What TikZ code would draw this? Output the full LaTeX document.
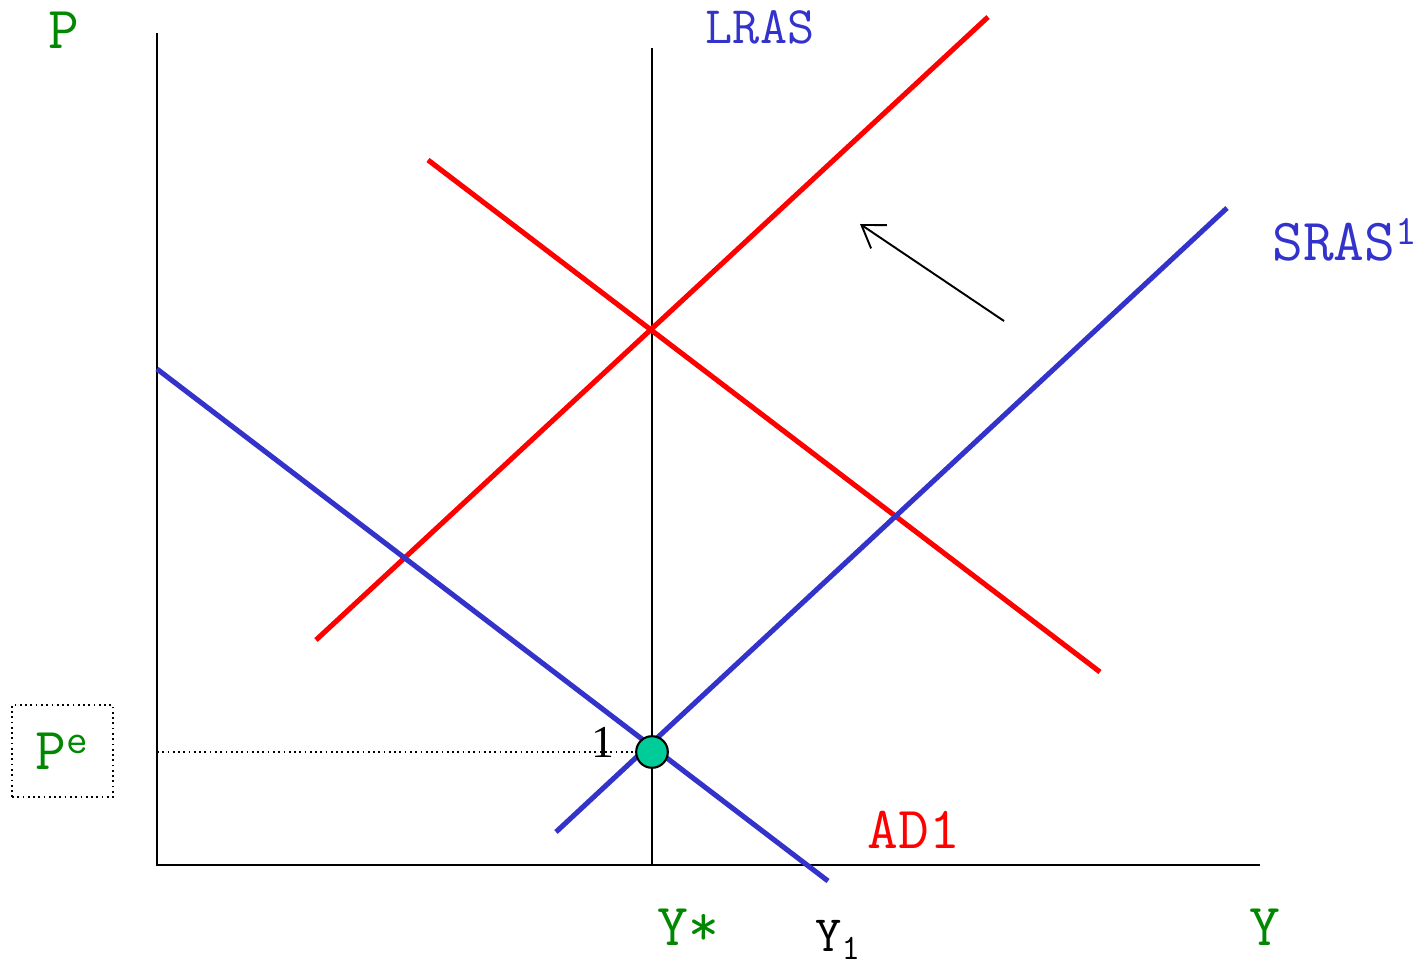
\documentclass[tikz,border=0pt]{standalone}
\usepackage{fontspec}
\setmainfont{Liberation Serif}
\usepackage{tikz}
\usetikzlibrary{positioning,arrows.meta,calc}
\usepackage{xcolor}
\definecolor{mygreen}{RGB}{0,136,0}
\definecolor{myblue}{RGB}{51,51,204}
\definecolor{myred}{RGB}{255,0,0}
\definecolor{myteal}{RGB}{0,204,153}

\begin{document}
\begin{tikzpicture}[x=0.02cm, y=-0.02cm,
    every node/.style={font=\ttfamily\fontsize{34}{36}\selectfont, inner sep=0pt},
    curve/.style={line width=2.9pt},
    axis/.style={line width=1.7pt}]
      \useasboundingbox (0,0) rectangle (1428,966);
      % axes
      \coordinate (O)  at (157,865);
      \coordinate (Pt) at (157,33);
      \coordinate (Yr) at (1260,865);
      \draw[axis] (Pt) -- (O) -- (Yr);
      % long run
      \coordinate (Lt) at (652,48);
      \coordinate (Lb) at (652,865);
      \draw[line width=1.4pt] (Lt) -- (Lb);
      % red curves
      \coordinate (asA) at (316,640);
      \coordinate (asB) at (988,17);
      \coordinate (adA) at (428,160);
      \coordinate (adB) at (1100,672);
      \draw[curve, myred] (asA) -- (asB);
      \draw[curve, myred] (adA) -- (adB);
      % blue curves
      \coordinate (bdA) at (157,369);
      \coordinate (bdB) at (828,881);
      \coordinate (bsA) at (556,832);
      \coordinate (bsB) at (1227,208);
      \draw[curve, myblue] (bdA) -- (bdB);
      \draw[curve, myblue] (bsA) -- (bsB);
      % shift
      \coordinate (sh1) at (1004,321);
      \coordinate (sh2) at (860,224);
      \draw[line width=1.1pt, -{Straight Barb[length=12pt,width=16pt]}] (sh1) -- (sh2);
      % equilibrium
      \coordinate (pe) at (157,752);
      \node[circle, draw, line width=1.2pt, fill=myteal, minimum size=18pt] (E) at (652,752) {};
      \draw[dotted, line width=1pt] (pe) -- (E);
      \node[font=\rmfamily\fontsize{26}{28}\selectfont] (one) at (603,742) {1};
      % labels
      \node[draw, dotted, line width=1pt, minimum width=57.5pt, minimum height=52.5pt,
            text=mygreen] (Pe) at (62.5,751) {P\textsuperscript{e}};
      \node[text=mygreen] (P) at (64,30) {P};
      \node[text=myblue, font=\ttfamily\fontsize{30}{32}\selectfont] (LRAS) at (760,27) {LRAS};
      \node[text=myblue] (SRAS) at (1345,240) {SRAS\textsuperscript{1}};
      \node[text=myred] (AD) at (914,830) {AD1};
      \node[text=mygreen] (Ys) at (688,927) {Y*};
      \node[font=\ttfamily\fontsize{29}{31}\selectfont] (Y1) at (838,940) {Y\textsubscript{1}};
      \node[text=mygreen] (Y) at (1265,927) {Y};
\end{tikzpicture}
\end{document}
